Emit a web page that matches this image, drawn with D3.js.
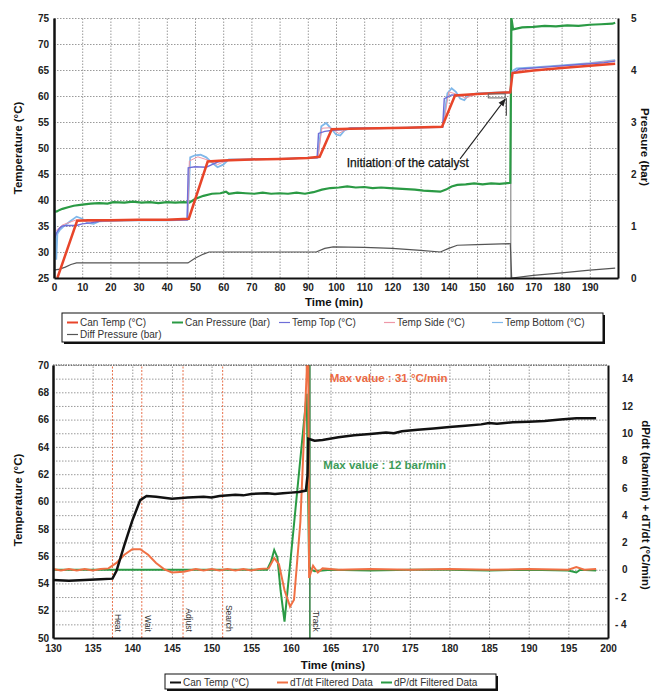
<!DOCTYPE html>
<html>
<head>
<meta charset="utf-8">
<script src="https://cdn.jsdelivr.net/npm/d3@7"></script>
<style>
  body { margin: 0; background: #fff; }
  svg { font-family: "Liberation Sans", Arial, sans-serif; }
  .tick text { font-weight: bold; font-size: 10px; fill: #222; }
  .grid line { stroke: #9a9a9a; stroke-dasharray: 1.5,1.5; stroke-width: 1; }
  .grid .domain { display: none; }
  .ax .domain { stroke: #111; }
  .lbl { font-weight: bold; font-size: 11.5px; fill: #111; }
  .leg { font-size: 10px; fill: #333; }
</style>
</head>
<body>
<svg id="chart" width="653" height="692"></svg>
<script>
// ---- top panel: temperature / pressure vs time (min) ----
var topTimeTicks = d3.range(0, 200, 10);
var topTempTicks = d3.range(25, 76, 5);
var topPressTicks = [0, 1, 2, 3, 4, 5];

// [time, °C]
var canTempTop = [[1.2,25],[8.2,36],[12,36.1],[20,36.1],[30,36.2],[40,36.2],[47.8,36.4],[54.5,47.4],[60,47.6],[70,47.8],[80,47.9],[90,48.1],[94.2,48.3],[98.5,53.6],[105,53.7],[115,53.8],[125,53.9],[137.6,54.1],[142.2,60.1],[150,60.4],[161.8,60.7],[162.6,64.4],[170,64.9],[180,65.4],[190,65.8],[199,66.2]];
var tempTopTop = [[0.3,32.7],[1,33.8],[2,34.6],[3,35],[5,35.1],[8,35.1],[10,35.4],[13,35.6],[17,36],[25,36.1],[35,36.1],[47.2,36.2],[47.6,46.2],[50,46.4],[54,46.3],[56,46.8],[58,47.3],[62,47.7],[70,47.8],[80,47.9],[93.3,48.1],[93.8,52.8],[96,53.2],[99,53.4],[102,53.5],[105,53.8],[115,53.8],[125,53.9],[137.8,54],[138.4,59.5],[141,60.2],[145,60.1],[150,60.4],[161.8,60.6],[162.4,64.3],[165,65.2],[175,65.6],[185,66],[195,66.4],[199,66.7]];
var tempSideTop = [[0.5,34],[3,35.2],[8,36.2],[12,35.8],[20,36],[47.4,36.2],[48,47.5],[51,48.3],[55,47.6],[58,46.8],[62,47.8],[80,47.9],[93.6,48.2],[95,53.8],[98,53.9],[101,52.8],[104,53.7],[125,53.9],[138,54.1],[140,60.8],[143,60.3],[146,59.6],[150,60.4],[161.8,60.7],[162.5,64.6],[170,65.4],[185,66],[199,66.8]];
var tempBottomTop = [[0,40],[0.4,34],[0.8,28.5],[1.2,33.5],[2,34.2],[4,35.2],[6,36],[8,36.8],[10,36.4],[12,35.6],[14,35.4],[16,35.9],[20,36],[30,36.1],[40,36.1],[47.3,36.2],[48.3,48.2],[50,48.6],[52,48.7],[54,48.2],[56,47.2],[58,46.3],[60,46.8],[62,47.8],[70,47.8],[80,47.9],[93.5,48.2],[94.8,54.2],[96.5,54.8],[98.5,53.6],[100,52.6],[101.5,52.4],[103,53.4],[105,53.8],[115,53.8],[125,53.9],[137.9,54.1],[139.5,60.5],[141,61.5],[142.5,60.8],[144,59.5],[145.5,59.2],[147,60.2],[150,60.5],[161.8,60.8],[162.5,64.8],[164,65.3],[170,65.5],[180,65.9],[190,66.3],[199,66.9]];
// [time, bar]
var canPressTop = [[0,1.27],[1,1.28],[2,1.31],[3,1.33],[5,1.36],[7,1.39],[10,1.41],[13,1.43],[16,1.44],[19,1.43],[21,1.46],[25,1.45],[28,1.47],[31,1.45],[34,1.46],[37,1.44],[40,1.46],[43,1.45],[46,1.46],[48,1.45],[50,1.52],[53,1.58],[56,1.62],[59,1.63],[61,1.66],[62,1.62],[65,1.64],[68,1.63],[71,1.62],[74,1.64],[77,1.62],[80,1.63],[83,1.62],[86,1.64],[89,1.62],[92,1.65],[95,1.70],[98,1.73],[101,1.74],[104,1.76],[107,1.74],[110,1.75],[113,1.73],[116,1.74],[119,1.73],[122,1.72],[125,1.71],[128,1.70],[131,1.68],[134,1.67],[137,1.66],[139,1.70],[141,1.76],[143,1.79],[146,1.80],[149,1.82],[152,1.80],[155,1.82],[158,1.81],[161.8,1.83],[162.2,5.0],[162.8,4.78],[166,4.82],[170,4.83],[174,4.85],[178,4.84],[182,4.86],[186,4.85],[190,4.87],[194,4.88],[198,4.89],[199,4.91]];
var diffPressTop = [[0,0.15],[2,0.17],[4,0.21],[6,0.26],[8,0.29],[15,0.29],[25,0.29],[35,0.29],[47.5,0.29],[50,0.38],[53,0.46],[55,0.5],[65,0.5],[75,0.5],[85,0.5],[93,0.5],[96,0.57],[99,0.6],[110,0.59],[120,0.57],[130,0.53],[137,0.5],[140,0.57],[143,0.63],[150,0.64],[161.8,0.66],[162.3,0],[170,0.05],[180,0.1],[190,0.15],[199,0.19]];

// ---- bottom panel: zoom on 130-200 min ----
var botTimeTicks = d3.range(130, 201, 5);
var botTempTicks = d3.range(50, 71, 2);
var botRateTicks = d3.range(-4, 15, 2);
// [time, °C]
var canTempBot = [[130,54.25],[132,54.2],[134,54.25],[136,54.3],[137.5,54.35],[138,54.9],[139,56.8],[140,58.6],[141,60.1],[141.8,60.4],[143,60.35],[145,60.2],[147,60.3],[149,60.35],[150,60.3],[151,60.4],[153,60.5],[154,60.45],[155,60.55],[157,60.6],[158,60.55],[159,60.6],[160,60.65],[161,60.7],[161.9,60.8],[162.1,61.9],[162.2,64.6],[163,64.45],[164,64.5],[166,64.7],[168,64.85],[170,64.95],[172,65.05],[173,65.0],[174,65.15],[176,65.25],[178,65.35],[180,65.45],[182,65.55],[184,65.65],[185,65.75],[186,65.7],[188,65.8],[190,65.85],[192,65.9],[194,66.0],[196,66.1],[198.5,66.1]];
// [time, °C/min]
var dTdt = [[130,0.05],[131,-0.05],[132,0.05],[133,-0.05],[134,0.05],[135,-0.05],[136,0.05],[137,0.1],[138,0.5],[139,1.1],[140,1.5],[141,1.5],[142,1.1],[143,0.5],[144,0.05],[145,-0.2],[146.5,-0.15],[148,0.05],[149,-0.05],[150,0.05],[151,-0.05],[152,0.05],[153,-0.05],[154,0.05],[155,-0.05],[156,0.05],[157.2,0.1],[157.9,0.85],[158.5,0.4],[159.2,-1.5],[159.9,-2.7],[160.4,-2.2],[161.2,3.5],[162,14.5],[162.1,31],[162.3,-0.6],[162.8,0.3],[163.4,-0.2],[164,0.1],[166,0],[170,0.05],[175,0],[180,0.05],[185,0],[190,0.05],[195,0],[196,0.2],[197,0],[198.5,0.05]];
// [time, bar/min]
var dPdt = [[130,0],[140,0],[150,0],[157,0],[157.5,0.6],[157.9,1.45],[158.3,0.9],[158.7,-1.5],[159.2,-3.8],[162,12.9],[162.3,0.2],[162.6,0],[163,-0.1],[165,0],[170,-0.05],[175,0],[180,0],[185,-0.05],[190,0],[195,-0.05],[196,-0.2],[196.5,0],[198.5,-0.05]];
var stepNames = ["Heat", "Wait", "Adjust", "Search", "Track"];
var stepTimes = [137.5, 141.2, 146.4, 151.4, 162.4];

var svg = d3.select("#chart");

var red = "#e8452a", green = "#2a9a44", purple = "#6e6ed8", pink = "#ee98a8",
    lblue = "#80b8ea", grey = "#555", orange = "#f07044";

// ===== top =====
var xT = d3.scaleLinear().domain([0, 200]).range([54, 618]);
var yT = d3.scaleLinear().domain([25, 75]).range([278, 18]);
var yP = d3.scaleLinear().domain([0, 5]).range([278, 18]);

svg.append("defs").append("clipPath").attr("id", "clipT")
  .append("rect").attr("x", 54).attr("y", 18).attr("width", 564).attr("height", 260);
svg.select("defs").append("clipPath").attr("id", "clipB")
  .append("rect").attr("x", 53).attr("y", 365).attr("width", 555).attr("height", 273);
svg.select("defs").append("marker").attr("id", "arr")
  .attr("viewBox", "0 0 10 10").attr("refX", 9).attr("refY", 5)
  .attr("markerWidth", 7).attr("markerHeight", 7).attr("orient", "auto")
  .append("path").attr("d", "M0,1L10,5L0,9z").attr("fill", "#222");

svg.append("g").attr("class", "grid").attr("transform", "translate(0,278)")
  .call(d3.axisBottom(xT).tickValues(d3.range(10, 201, 10)).tickSize(-260).tickFormat(""));
svg.append("g").attr("class", "grid").attr("transform", "translate(54,0)")
  .call(d3.axisLeft(yT).tickValues(d3.range(30, 76, 5)).tickSize(-564).tickFormat(""));

var lineT = d3.line().x(d => xT(d[0])).y(d => yT(d[1]));
var lineP = d3.line().x(d => xT(d[0])).y(d => yP(d[1]));

var pT = svg.append("g").attr("clip-path", "url(#clipT)");
// marker at catalyst initiation
pT.append("line").attr("x1", xT(162)).attr("x2", xT(162)).attr("y1", yT(25)).attr("y2", yT(75))
  .attr("stroke", "#777").attr("stroke-width", 1);
pT.append("path").datum(diffPressTop).attr("d", lineP).attr("fill", "none").attr("stroke", grey).attr("stroke-width", 1.2);
pT.append("path").datum(canPressTop).attr("d", lineP).attr("fill", "none").attr("stroke", green).attr("stroke-width", 2.2);
pT.append("path").datum(tempBottomTop).attr("d", lineT).attr("fill", "none").attr("stroke", lblue).attr("stroke-width", 1.8);
pT.append("path").datum(tempSideTop).attr("d", lineT).attr("fill", "none").attr("stroke", pink).attr("stroke-width", 1);
pT.append("path").datum(tempTopTop).attr("d", lineT).attr("fill", "none").attr("stroke", purple).attr("stroke-width", 1.4);
pT.append("path").datum(canTempTop).attr("d", lineT).attr("fill", "none").attr("stroke", red).attr("stroke-width", 2.5);

svg.append("g").attr("class", "ax").attr("transform", "translate(0,278)")
  .call(d3.axisBottom(xT).tickValues(topTimeTicks).tickSize(0).tickPadding(6).tickSizeOuter(0))
  .select(".domain").attr("stroke-width", 2);
svg.append("g").attr("class", "ax").attr("transform", "translate(54,0)")
  .call(d3.axisLeft(yT).tickValues(topTempTicks).tickSize(0).tickPadding(5).tickSizeOuter(0))
  .select(".domain").attr("stroke-width", 2.5);
svg.append("g").attr("class", "ax").attr("transform", "translate(618,0)")
  .call(d3.axisRight(yP).tickValues(topPressTicks).tickSize(0).tickPadding(13).tickSizeOuter(0)
    .tickFormat(d3.format("d")))
  .select(".domain").attr("stroke-width", 2);

svg.append("text").attr("class", "lbl").attr("transform", "translate(22,148) rotate(-90)")
  .attr("text-anchor", "middle").text("Temperature (°C)");
svg.append("text").attr("class", "lbl").attr("transform", "translate(641,147) rotate(90)")
  .attr("text-anchor", "middle").text("Pressure (bar)");
svg.append("text").attr("class", "lbl").attr("x", 334).attr("y", 306)
  .attr("text-anchor", "middle").text("Time (min)");

// annotation
svg.append("text").attr("x", xT(103.8)).attr("y", yT(46.3)).attr("font-size", 12)
  .attr("fill", "#111").attr("stroke", "#111").attr("stroke-width", 0.25)
  .text("Initiation of the catalyst");
svg.append("line").attr("x1", xT(144)).attr("y1", yT(47.9)).attr("x2", xT(160)).attr("y2", yT(59.4))
  .attr("stroke", "#222").attr("stroke-width", 1.1).attr("marker-end", "url(#arr)");
svg.append("rect").attr("x", xT(154)).attr("y", yT(60.4)).attr("width", xT(160) - xT(154)).attr("height", 4)
  .attr("fill", "none").attr("stroke", "#666").attr("stroke-width", 1);
svg.append("line").attr("x1", xT(160.4)).attr("x2", xT(160.4)).attr("y1", yT(59.6)).attr("y2", yT(56.2))
  .attr("stroke", "#333").attr("stroke-width", 1);

// top legend
function legendBox(x, y, w, h) {
  svg.append("rect").attr("x", x + 2).attr("y", y + 2).attr("width", w).attr("height", h).attr("fill", "#111");
  svg.append("rect").attr("x", x).attr("y", y).attr("width", w).attr("height", h)
    .attr("fill", "#fff").attr("stroke", "#111").attr("stroke-width", 1);
}
function legendItem(x, y, color, label, sw) {
  svg.append("line").attr("x1", x).attr("x2", x + 11).attr("y1", y - 3.5).attr("y2", y - 3.5)
    .attr("stroke", color).attr("stroke-width", sw);
  svg.append("text").attr("class", "leg").attr("x", x + 13).attr("y", y).text(label);
}
legendBox(62, 313, 541, 29);
legendItem(67, 326, red, "Can Temp (°C)", 2);
legendItem(172, 326, green, "Can Pressure (bar)", 2);
legendItem(279, 326, purple, "Temp Top (°C)", 1.2);
legendItem(384, 326, pink, "Temp Side (°C)", 1.2);
legendItem(492, 326, lblue, "Temp Bottom (°C)", 1.2);
legendItem(67, 338, grey, "Diff Pressure (bar)", 1.2);

// ===== bottom =====
var xB = d3.scaleLinear().domain([130, 200]).range([53, 608]);
var yB = d3.scaleLinear().domain([50, 70]).range([638, 365]);
var yR = d3.scaleLinear().domain([-5, 15]).range([638, 365]);

svg.append("g").attr("class", "grid").attr("transform", "translate(0,638)")
  .call(d3.axisBottom(xB).tickValues(d3.range(135, 201, 5)).tickSize(-273).tickFormat(""));
svg.append("g").attr("class", "grid").attr("transform", "translate(53,0)")
  .call(d3.axisLeft(yB).tickValues(d3.range(51, 71, 1)).tickSize(-555).tickFormat(""));

var pB = svg.append("g").attr("clip-path", "url(#clipB)");
stepTimes.forEach((t, i) => {
  var last = i === stepTimes.length - 1;
  pB.append("line").attr("x1", xB(t)).attr("x2", xB(t)).attr("y1", yB(50)).attr("y2", yB(70))
    .attr("stroke", last ? "#2c7a3c" : "#e8704a").attr("stroke-width", last ? 1.5 : 1)
    .attr("stroke-dasharray", last ? null : "2,1.5");
  svg.append("text").attr("transform", `translate(${xB(t) + 3},${yB(50.45)}) rotate(90)`)
    .attr("text-anchor", "end").attr("font-size", 8.5).attr("fill", "#333").text(stepNames[i]);
});

var lineB = d3.line().x(d => xB(d[0])).y(d => yB(d[1]));
var lineR = d3.line().x(d => xB(d[0])).y(d => yR(d[1]));
pB.append("path").datum(dPdt).attr("d", lineR).attr("fill", "none").attr("stroke", green).attr("stroke-width", 2);
pB.append("path").datum(dTdt).attr("d", lineR).attr("fill", "none").attr("stroke", orange).attr("stroke-width", 2);
pB.append("path").datum(canTempBot).attr("d", lineB).attr("fill", "none").attr("stroke", "#111").attr("stroke-width", 2.5);

svg.append("g").attr("class", "ax").attr("transform", "translate(0,638)")
  .call(d3.axisBottom(xB).tickValues(botTimeTicks).tickSize(0).tickPadding(7).tickSizeOuter(0))
  .select(".domain").attr("stroke-width", 2);
svg.append("g").attr("class", "ax").attr("transform", "translate(53,0)")
  .call(d3.axisLeft(yB).tickValues(botTempTicks).tickSize(0).tickPadding(4).tickSizeOuter(0))
  .select(".domain").attr("stroke-width", 2.5);
var rAx = svg.append("g").attr("class", "ax").attr("transform", "translate(608,0)")
  .call(d3.axisRight(yR).tickValues(botRateTicks).tickSize(0).tickPadding(14).tickSizeOuter(0)
    .tickFormat(d => d < 0 ? "- " + (-d) : d));
rAx.select(".domain").attr("stroke-width", 2);
rAx.selectAll(".tick text").attr("dx", d => d < 0 ? -7 : 0);
svg.append("line").attr("x1", 53).attr("x2", 608).attr("y1", 365).attr("y2", 365)
  .attr("stroke", "#444").attr("stroke-dasharray", "1.5,1").attr("stroke-width", 1.2);

svg.append("text").attr("class", "lbl").attr("transform", "translate(22,500) rotate(-90)")
  .attr("text-anchor", "middle").text("Temperature (°C)");
svg.append("text").attr("class", "lbl").attr("transform", "translate(642,505) rotate(90)")
  .attr("text-anchor", "middle").text("dP/dt (bar/min) + dT/dt (°C/min)");
svg.append("text").attr("class", "lbl").attr("x", 333).attr("y", 669)
  .attr("text-anchor", "middle").text("Time (mins)");

svg.append("text").attr("x", xB(164.9)).attr("y", yB(68.75)).attr("font-size", 11.5).attr("font-weight", "bold")
  .attr("fill", "#ec6a44").text("Max value : 31 °C/min");
svg.append("text").attr("x", xB(164.1)).attr("y", yB(62.4)).attr("font-size", 11.5).attr("font-weight", "bold")
  .attr("fill", "#3d9a58").text("Max value : 12 bar/min");

legendBox(165, 674, 331, 15);
legendItem(170, 686, "#111", "Can Temp (°C)", 2);
legendItem(277, 686, orange, "dT/dt Filtered Data", 2);
legendItem(381, 686, green, "dP/dt Filtered Data", 2);
</script>
</body>
</html>
